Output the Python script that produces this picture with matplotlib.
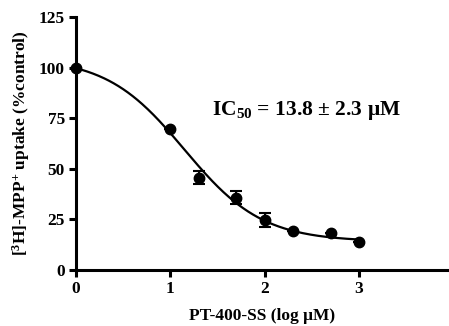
import numpy as np
import matplotlib
matplotlib.use("Agg")
import matplotlib.pyplot as plt

# data
log_conc = [0, 1, 1.3, 1.7, 2, 2.3, 2.7, 3]
uptake = [100, 69.5, 45.6, 35.7, 24.7, 19.2, 18.1, 14.0]
sem = [0, 0, 3.2, 3.3, 3.5, 0, 0, 0]
x_ticks = [0, 1, 2, 3]
y_ticks = [0, 25, 50, 75, 100, 125]

# fit parameters (four-parameter logistic)
fit_top = 105.0
fit_bottom = 14.0
fit_logic50 = 1.15
fit_hill = 1.05

plt.rcParams['font.family'] = ['Liberation Serif', 'DejaVu Serif']
plt.rcParams['font.weight'] = 'bold'
plt.rcParams['mathtext.fontset'] = 'custom'
plt.rcParams['mathtext.rm'] = 'Liberation Serif:bold'
plt.rcParams['mathtext.bf'] = 'Liberation Serif:bold'
plt.rcParams['mathtext.it'] = 'Liberation Serif:bold'
plt.rcParams['mathtext.default'] = 'bf'

fig = plt.figure(figsize=(4.49, 3.26), dpi=100)
ax = fig.add_axes([0.169, 0.172, 0.831, 0.776])

xs = np.linspace(0, 3, 300)
ys = fit_bottom + (fit_top - fit_bottom) / (1 + 10 ** ((xs - fit_logic50) * fit_hill))
ax.plot(xs, ys, color='black', lw=1.6, zorder=2)

ax.errorbar(log_conc, uptake, yerr=sem, fmt='o', color='black', ms=7.5,
            capsize=4.5, elinewidth=1.5, capthick=1.5, zorder=3, clip_on=False)

ax.set_xlim(0, 3.955)
ax.set_ylim(0, 125)
ax.set_xticks(x_ticks)
ax.set_yticks(y_ticks)
ax.set_xticklabels([str(t) for t in x_ticks], fontsize=12.5, fontweight='bold')
ax.set_yticklabels([str(t) for t in y_ticks], fontsize=12.5, fontweight='bold')

for s in ['top', 'right']:
    ax.spines[s].set_visible(False)
for s in ['left', 'bottom']:
    ax.spines[s].set_linewidth(2.2)
ax.tick_params(width=2.2, length=5, pad=3)

ax.set_xlabel('PT-400-SS (log μM)', fontsize=12.5, fontweight='bold', labelpad=8)
ax.set_ylabel(r'[$^{3}$H]-MPP$^{+}$ uptake (%control)', fontsize=12.5,
              fontweight='bold', labelpad=5)

ax.text(2.44, 79, r'IC$_{50}$ = 13.8 ± 2.3 μM', fontsize=15.5, fontweight='bold',
        ha='center', va='center')

fig.savefig('out.png', dpi=100)
